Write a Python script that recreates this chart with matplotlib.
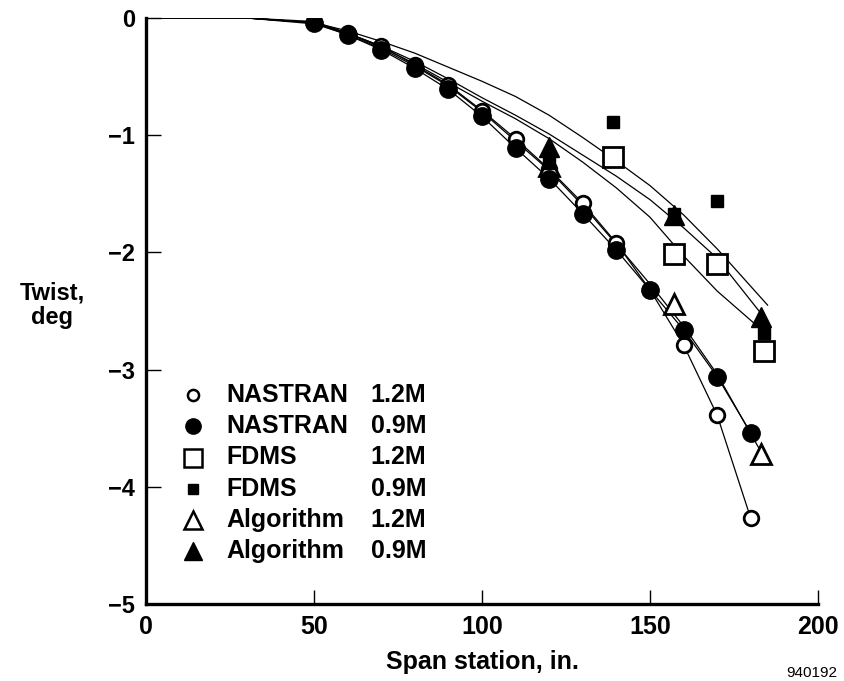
import matplotlib
matplotlib.use("Agg")
import matplotlib.pyplot as plt

plt.rcParams['font.family'] = ['Liberation Sans', 'DejaVu Sans']

# -----------------------------
# DATA
# -----------------------------

# NASTRAN markers
nas_x = [50, 60, 70, 80, 90, 100, 110, 120, 130, 140, 150, 160, 170, 180]
nas12_y = [-0.03, -0.13, -0.24, -0.40, -0.57, -0.79, -1.03, -1.29, -1.58, -1.92, -2.32, -2.79, -3.39, -4.27]
nas09_y = [-0.04, -0.145, -0.27, -0.43, -0.61, -0.84, -1.11, -1.37, -1.67, -1.98, -2.32, -2.66, -3.06, -3.54]

# FDMS markers
fdms12_x = [139, 157, 170, 184]
fdms12_y = [-1.19, -2.01, -2.10, -2.84]
fdms09_x = [120, 139, 157, 170, 184]
fdms09_y = [-1.24, -0.89, -1.67, -1.56, -2.69]

# Algorithm markers
alg12_x = [120, 157, 183]
alg12_y = [-1.26, -2.44, -3.72]
alg09_x = [120, 157, 183]
alg09_y = [-1.10, -1.68, -2.55]

# curves (flat root from 0 to 30 in.)
root_x = [0, 30]
root_y = [0, 0]

alg12_line_x = [0, 30, 50, 60, 70, 80, 90, 100, 110, 120, 130, 140, 150, 160, 170, 183]
alg12_line_y = [0, 0, -0.05, -0.14, -0.26, -0.41, -0.58, -0.80, -1.05, -1.30, -1.60, -1.93, -2.27, -2.63, -3.04, -3.70]

upper_a_x = [0, 30, 50, 60, 70, 80, 90, 100, 110, 120, 130, 140, 150, 160, 170, 185]
upper_a_y = [0, 0, -0.04, -0.11, -0.20, -0.30, -0.42, -0.54, -0.67, -0.83, -1.02, -1.22, -1.43, -1.68, -1.97, -2.45]

upper_b_x = [0, 30, 50, 60, 70, 80, 90, 100, 110, 120, 130, 140, 150, 160, 170, 183]
upper_b_y = [0, 0, -0.04, -0.13, -0.24, -0.37, -0.52, -0.68, -0.83, -0.99, -1.17, -1.35, -1.55, -1.79, -2.05, -2.52]

upper_c_x = [0, 30, 50, 60, 70, 80, 90, 100, 110, 120, 130, 140, 150, 160, 170, 184]
upper_c_y = [0, 0, -0.04, -0.13, -0.25, -0.39, -0.55, -0.71, -0.86, -1.03, -1.23, -1.45, -1.70, -2.03, -2.33, -2.68]

legend_names = ["NASTRAN", "NASTRAN", "FDMS", "FDMS", "Algorithm", "Algorithm"]
legend_mach = ["1.2M", "0.9M", "1.2M", "0.9M", "1.2M", "0.9M"]

x_ticks = [0, 50, 100, 150, 200]
y_ticks = [0, -1, -2, -3, -4, -5]

# -----------------------------
# PLOT
# -----------------------------

fig = plt.figure(figsize=(8.45, 6.81), dpi=100)
ax = fig.add_axes([146 / 845, 1 - 604 / 681, 672 / 845, 586 / 681])

lw = 0.9
ax.plot(root_x + nas_x, root_y + nas12_y, color='black', lw=lw, zorder=2)
ax.plot(root_x + nas_x, root_y + nas09_y, color='black', lw=lw, zorder=2)
ax.plot(alg12_line_x, alg12_line_y, color='black', lw=lw, zorder=2)
ax.plot(upper_a_x, upper_a_y, color='black', lw=lw, zorder=2)
ax.plot(upper_b_x, upper_b_y, color='black', lw=lw, zorder=2)
ax.plot(upper_c_x, upper_c_y, color='black', lw=lw, zorder=2)

# markers
ax.plot(nas_x, nas12_y, 'o', ms=10.5, mfc='white', mec='black', mew=2, ls='none', zorder=3)
ax.plot(nas_x, nas09_y, 'o', ms=12.5, mfc='black', mec='black', ls='none', zorder=4)
ax.plot(alg12_x, alg12_y, '^', ms=14, mfc='white', mec='black', mew=2, ls='none', zorder=3)
ax.plot(fdms09_x, fdms09_y, 's', ms=8.5, mfc='black', mec='black', ls='none', zorder=4)
ax.plot(alg09_x, alg09_y, '^', ms=14, mfc='black', mec='black', ls='none', zorder=5)
ax.plot(fdms12_x, fdms12_y, 's', ms=14, mfc='white', mec='black', mew=2, ls='none', zorder=5)

# legend drawn by hand so the Mach column lines up
leg_styles = [
    dict(marker='o', ms=8, mfc='white', mec='black', mew=1.8),
    dict(marker='o', ms=11, mfc='black', mec='black'),
    dict(marker='s', ms=12.5, mfc='white', mec='black', mew=1.8),
    dict(marker='s', ms=7.5, mfc='black', mec='black'),
    dict(marker='^', ms=13, mfc='white', mec='black', mew=1.8),
    dict(marker='^', ms=13, mfc='black', mec='black'),
]
for i, (name, mach) in enumerate(zip(legend_names, legend_mach)):
    yy = 0.356 - i * 0.053
    ax.plot([0.070], [yy], transform=ax.transAxes, ls='none', clip_on=False, **leg_styles[i])
    ax.text(0.119, yy, name, transform=ax.transAxes, fontsize=18, fontweight='bold',
            ha='left', va='center')
    ax.text(0.417, yy, mach, transform=ax.transAxes, fontsize=18, fontweight='bold',
            ha='right', va='center')

ax.set_xlim(0, 200)
ax.set_ylim(-5, 0)
ax.set_xticks(x_ticks)
ax.set_yticks(y_ticks)
ax.set_xticklabels([str(t) for t in x_ticks])
ax.set_yticklabels([str(t).replace('-', '\u2212') for t in y_ticks])

for side in ['top', 'right']:
    ax.spines[side].set_visible(False)
for side in ['left', 'bottom']:
    ax.spines[side].set_linewidth(2.4)

ax.tick_params(axis='y', direction='in', length=11, width=1.0, pad=8, labelsize=17)
ax.tick_params(axis='x', direction='in', length=10, width=1.0, pad=8, labelsize=18)
for lab in ax.get_xticklabels() + ax.get_yticklabels():
    lab.set_fontweight('bold')

ax.set_xlabel("Span station, in.", fontsize=18, fontweight='bold', labelpad=8)
fig.text(52 / 845, 1 - 305 / 681, "Twist,\ndeg", fontsize=17, fontweight='bold',
         ha='center', va='center', linespacing=1.1)
fig.text(812 / 845, 1 - 673 / 681, "940192", fontsize=11, ha='center', va='center')

fig.savefig("out.png", dpi=100)
